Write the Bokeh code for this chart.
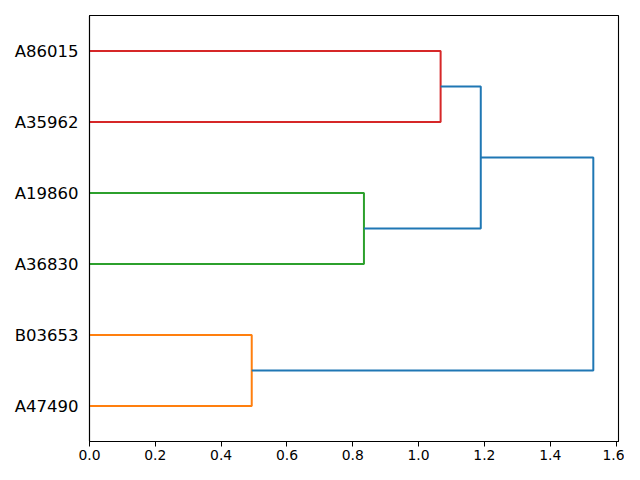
from bokeh.plotting import figure
from bokeh.models import FixedTicker, PrintfTickFormatter, Range1d
from bokeh.embed import file_html
from bokeh.resources import INLINE

# Leaves, bottom to top
leaves = ["A47490", "B03653", "A36830", "A19860", "A35962", "A86015"]
# merges: (left child, right child, height, colour); children are leaf names or merge indices
merge_left = ["A47490", "A36830", "A35962", 1, 0]
merge_right = ["B03653", "A19860", "A86015", 2, 3]
merge_height = [0.493, 0.834, 1.067, 1.189, 1.531]
merge_color = ["#ff7f0e", "#2ca02c", "#d62728", "#1f77b4", "#1f77b4"]
x_ticks = [0.0, 0.2, 0.4, 0.6, 0.8, 1.0, 1.2, 1.4, 1.6]

pos = {name: 5 + 10 * i for i, name in enumerate(leaves)}
hgt = {name: 0.0 for name in leaves}
xs, ys = [], []
for i, (a, b, h) in enumerate(zip(merge_left, merge_right, merge_height)):
    ya, yb = pos[a], pos[b]
    xs.append([hgt[a], h, h, hgt[b]])
    ys.append([ya, ya, yb, yb])
    pos[i] = (ya + yb) / 2
    hgt[i] = h

p = figure(width=624, height=464, output_backend="svg", toolbar_location=None,
           x_range=Range1d(0, max(merge_height) * 1.05), y_range=Range1d(0, 10 * len(leaves)),
           min_border_left=89, min_border_right=6, min_border_top=15, min_border_bottom=23)
p.multi_line(xs=xs, ys=ys, line_color=merge_color, line_width=2)

p.xgrid.visible = False
p.ygrid.visible = False
p.outline_line_color = "black"
p.outline_line_width = 1.1
p.outline_line_alpha = 1

p.xaxis.ticker = FixedTicker(ticks=x_ticks)
p.xaxis.formatter = PrintfTickFormatter(format="%.1f")
p.xaxis.major_label_text_font = "DejaVu Sans"
p.xaxis.major_label_text_font_size = "13.9px"
p.xaxis.major_label_text_color = "black"
p.xaxis.major_tick_out = 5
p.xaxis.major_tick_in = 0
p.xaxis.minor_tick_line_color = None
p.xaxis.major_label_standoff = 3

p.yaxis.ticker = FixedTicker(ticks=[5 + 10 * i for i in range(len(leaves))])
p.yaxis.major_label_overrides = {5 + 10 * i: n for i, n in enumerate(leaves)}
p.yaxis.major_label_text_font = "DejaVu Sans"
p.yaxis.major_label_text_font_size = "16.5px"
p.yaxis.major_label_text_color = "black"
p.yaxis.major_tick_line_color = None
p.yaxis.minor_tick_line_color = None
p.yaxis.major_label_standoff = 5

for ax in (p.xaxis, p.yaxis):
    ax.axis_line_color = "black"
    ax.axis_line_width = 1.1

open("out.html", "w").write(file_html(p, INLINE))
